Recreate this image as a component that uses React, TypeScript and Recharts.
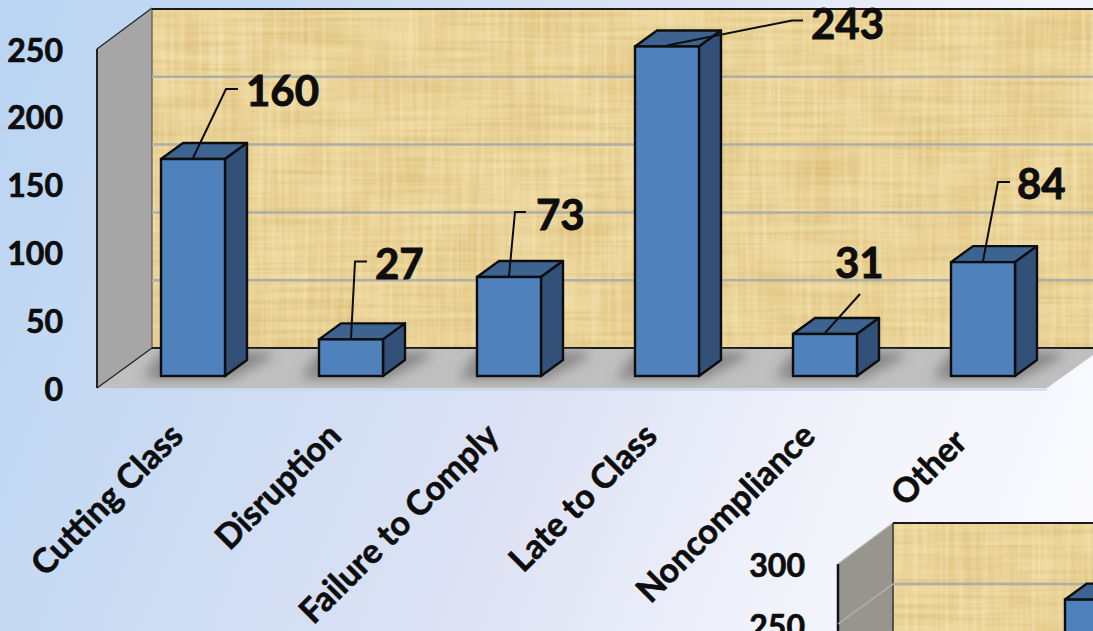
import { BarChart, Bar, XAxis, YAxis, CartesianGrid, LabelList } from "recharts";

const categories = ["Cutting Class", "Disruption", "Failure to Comply", "Late to Class", "Noncompliance", "Other"];
const incidents = [160, 27, 73, 243, 31, 84];
const yTicks = [0, 50, 100, 150, 200, 250];

const insetCategories = ["Late to Class"];
const insetValues = [261];
const insetTicks = [250, 300];

// leader line for each data label, relative to the top centre of the bar
const leaders = [
  { elbow: [33, -70], end: [45, -70], text: [53, -69] },
  { elbow: [4, -78], end: [16, -78], text: [24, -76] },
  { elbow: [6, -65], end: [17, -65], text: [27, -63] },
  { elbow: [125, -26], end: [136, -26], text: [144, -24] },
  { elbow: [35, -40], end: [35, -40], text: [10, -72] },
  { elbow: [15, -80], end: [27, -80], text: [34, -79] },
];
// the last axis label sits a little apart in the original
const labelNudge = [[-2, 2], [-2, 2], [-2, 2], [-2, 2], [-2, 2], [-8, 8]];

const data = categories.map((name, i) => ({ name, value: incidents[i] }));
const insetData = insetCategories.map((name, i) => ({ name, value: insetValues[i] }));

const FONT = "Lato, sans-serif";
const INK = "#0d0d0d";

function Bar3D(props: any) {
  const { x, y, width, height } = props;
  const dx = 22;
  const dy = -16;
  const r = x + width;
  const b = y + height;
  return (
    <g>
      <g clipPath="url(#floorClip)">
        <path
          d={`M${x - 18} ${b + 3} L${r + 4} ${b + 3} L${r + dx + 24} ${b + dy - 2} L${r + dx + 24} ${b + dy - 8} L${x} ${b + dy - 8} Z`}
          fill="#868686"
          filter="url(#floorShadow)"
        />
      </g>
      <path d={`M${x} ${y} L${x + dx} ${y + dy} L${r + dx} ${y + dy} L${r} ${y} Z`} fill="#3d6491" stroke={INK} strokeWidth={2.4} strokeLinejoin="round" />
      <path d={`M${r} ${y} L${r + dx} ${y + dy} L${r + dx} ${b + dy} L${r} ${b} Z`} fill="#325078" stroke={INK} strokeWidth={2.4} strokeLinejoin="round" />
      <rect x={x} y={y} width={width} height={height} fill="#4f81bd" stroke={INK} strokeWidth={2.4} />
    </g>
  );
}

function ValueLabel(props: any) {
  const { x, y, width, index, value } = props;
  const l = leaders[index];
  const cx = x + width / 2;
  return (
    <g>
      <polyline
        points={`${cx},${y - 1} ${cx + l.elbow[0]},${y + l.elbow[1]} ${cx + l.end[0]},${y + l.end[1]}`}
        fill="none"
        stroke={INK}
        strokeWidth={2}
      />
      <text x={cx + l.text[0]} y={y + l.text[1]} dominantBaseline="central" fontFamily={FONT} fontWeight={700} fontSize={42} fill={INK} stroke={INK} strokeWidth={0.9}>
        {value}
      </text>
    </g>
  );
}

function YTick(props: any) {
  const { payload, y, right } = props;
  return (
    <text x={right} y={y + 12} textAnchor="end" dominantBaseline="central" fontFamily={FONT} fontWeight={700} fontSize={32} fill={INK} stroke={INK} strokeWidth={0.7}>
      {payload.value}
    </text>
  );
}

function XTick(props: any) {
  const { x, payload, index } = props;
  const ex = x - 6 + labelNudge[index][0];
  const ey = 436 + labelNudge[index][1];
  return (
    <text x={ex} y={ey} textAnchor="end" transform={`rotate(-45 ${ex} ${ey})`} fontFamily={FONT} fontWeight={700} fontSize={34} fill={INK} stroke={INK} strokeWidth={0.6}>
      {payload.value}
    </text>
  );
}

function GridLine(props: any) {
  const { y1, shift, left, top, bottom, side } = props;
  const y = y1 - shift;
  const edge = y1 >= bottom - 1 || y1 <= top + 1;
  return (
    <g>
      {side && !edge && <line x1={left - 55} y1={y + 40} x2={left} y2={y} stroke="#b4b4ae" strokeWidth={1.5} />}
      <line x1={left} y1={y} x2={1093} y2={y} stroke={edge ? "#1a1a1a" : "#adadaa"} strokeWidth={edge ? 2 : 2.5} />
    </g>
  );
}

function Walls() {
  return (
    <svg width={1093} height={631} style={{ position: "absolute", left: 0, top: 0 }}>
      <defs>
        <filter id="parchment" x="0" y="0" width="100%" height="100%" colorInterpolationFilters="sRGB">
          <feTurbulence type="fractalNoise" baseFrequency="0.008 0.22" numOctaves={2} seed={4} result="h" />
          <feColorMatrix in="h" type="matrix" values="0 0 0 0 0.80  0 0 0 0 0.66  0 0 0 0 0.36  0.8 0 0 0 -0.3" result="hc" />
          <feTurbulence type="fractalNoise" baseFrequency="0.22 0.008" numOctaves={2} seed={9} result="v" />
          <feColorMatrix in="v" type="matrix" values="0 0 0 0 1  0 0 0 0 0.95  0 0 0 0 0.8  0.8 0 0 0 -0.3" result="vc" />
          <feTurbulence type="fractalNoise" baseFrequency="0.02" numOctaves={2} seed={2} result="b" />
          <feColorMatrix in="b" type="matrix" values="0 0 0 0 0.85  0 0 0 0 0.70  0 0 0 0 0.42  0.7 0 0 0 -0.27" result="bc" />
          <feMerge>
            <feMergeNode in="SourceGraphic" />
            <feMergeNode in="bc" />
            <feMergeNode in="hc" />
            <feMergeNode in="vc" />
          </feMerge>
        </filter>
        <filter id="floorShadow" x="-30%" y="-80%" width="160%" height="260%">
          <feGaussianBlur stdDeviation="6" />
        </filter>
        <clipPath id="floorClip">
          <polygon points="97,388 152,348 1093,348 1093,355 1047,388" />
        </clipPath>
      </defs>

      <rect x={152} y={8} width={941} height={340} fill="#ecd79c" filter="url(#parchment)" />
      <polygon points="97,49 152,8 152,348 97,388" fill="#a6a6a6" />
      <polygon points="97,388 152,348 1093,348 1093,355 1047,388" fill="#bfbfbf" />
      <line x1={97} y1={389.5} x2={1047} y2={389.5} stroke="#c6d6ee" strokeWidth={2} />
      <line x1={97} y1={49} x2={97} y2={388} stroke="#222" strokeWidth={2} />
      <line x1={97} y1={49} x2={152} y2={8} stroke="#222" strokeWidth={1.2} />
      <line x1={97} y1={388} x2={152} y2={348} stroke="#222" strokeWidth={1.2} />
      <line x1={152} y1={8} x2={152} y2={348} stroke="#555" strokeWidth={1.2} />

      <rect x={893} y={523} width={200} height={108} fill="#ecd79c" filter="url(#parchment)" />
      <polygon points="838,564 893,523 893,631 838,631" fill="#97968e" />
      <line x1={838} y1={564} x2={838} y2={631} stroke="#111" strokeWidth={2.5} />
      <line x1={838} y1={564} x2={893} y2={523} stroke="#b4b4ae" strokeWidth={1.2} />
      <line x1={893} y1={523} x2={893} y2={631} stroke="#333" strokeWidth={1.5} />
    </svg>
  );
}

export default function App() {
  return (
    <div
      style={{
        position: "fixed",
        left: 0,
        top: 0,
        width: 1093,
        height: 631,
        overflow: "hidden",
        background: "linear-gradient(112deg, #b9d4f2 0%, #c9dbf3 24%, #dde2f4 52%, #f1f3fb 76%, #fbfbfe 100%)",
      }}
    >
      <Walls />
      <div style={{ position: "absolute", left: 0, top: 0 }}>
        <BarChart width={1093} height={631} data={data} margin={{ top: 37, right: 31, bottom: 5, left: 44 }}>
          <CartesianGrid
            vertical={false}
            horizontal={(p: any) => <GridLine {...p} key={p.key} shift={28} left={152} top={37} bottom={376} />}
          />
          <XAxis dataKey="name" height={250} interval={0} axisLine={false} tickLine={false} tick={<XTick />} />
          <YAxis width={70} domain={[0, 250]} ticks={yTicks} interval={0} axisLine={false} tickLine={false} tick={<YTick right={63} />} />
          <Bar dataKey="value" barSize={64} isAnimationActive={false} shape={<Bar3D />}>
            <LabelList dataKey="value" content={<ValueLabel />} />
          </Bar>
        </BarChart>
      </div>
      <div style={{ position: "absolute", left: 0, top: 0 }}>
        <BarChart width={1200} height={920} data={insetData} margin={{ top: 552, right: 24, bottom: 2, left: 948 }}>
          <CartesianGrid
            vertical={false}
            horizontal={(p: any) => <GridLine {...p} key={p.key} shift={29} left={893} top={552} bottom={918} side />}
          />
          <XAxis dataKey="name" hide />
          <YAxis width={70} domain={[0, 300]} ticks={insetTicks} interval={0} axisLine={false} tickLine={false} tick={<YTick right={805} />} />
          <Bar dataKey="value" barSize={64} isAnimationActive={false} shape={<Bar3D />} />
        </BarChart>
      </div>
    </div>
  );
}
